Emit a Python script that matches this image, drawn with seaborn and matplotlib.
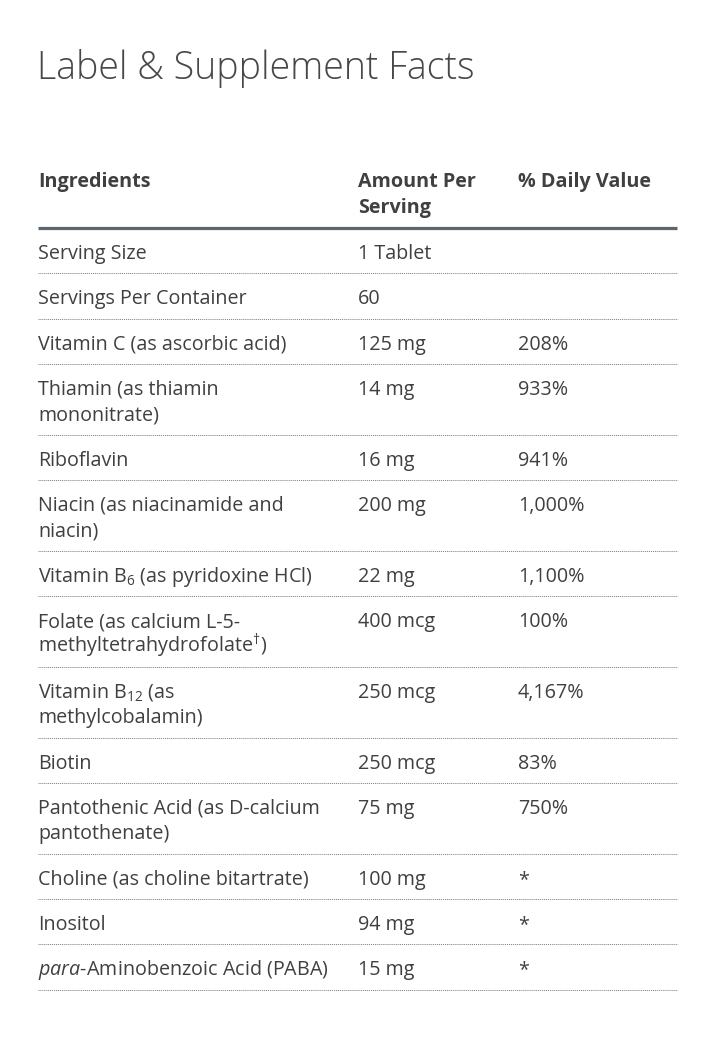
import matplotlib
matplotlib.use("Agg")
import matplotlib.pyplot as plt
import seaborn as sns

# table content
headers = ["Ingredients", "Amount Per\nServing", "% Daily Value"]
ingredients = [
    "Serving Size",
    "Servings Per Container",
    "Vitamin C (as ascorbic acid)",
    "Thiamin (as thiamin\nmononitrate)",
    "Riboflavin",
    "Niacin (as niacinamide and\nniacin)",
    r"Vitamin B$_{6}$ (as pyridoxine HCl)",
    "Folate (as calcium L-5-\n" + r"methyltetrahydrofolate$^{\dagger}$)",
    r"Vitamin B$_{12}$ (as" + "\nmethylcobalamin)",
    "Biotin",
    "Pantothenic Acid (as D-calcium\npantothenate)",
    "Choline (as choline bitartrate)",
    "Inositol",
    r"$\mathit{para}$-Aminobenzoic Acid (PABA)",
]
amounts = ["1 Tablet", "60", "125 mg", "14 mg", "16 mg", "200 mg", "22 mg",
           "400 mcg", "250 mcg", "250 mcg", "75 mg", "100 mg", "94 mg", "15 mg"]
daily_values = ["", "", "208%", "933%", "941%", "1,000%", "1,100%",
                "100%", "4,167%", "83%", "750%", "*", "*", "*"]

sns.set_theme(style="white")
plt.rcParams["font.family"] = ["Open Sans", "DejaVu Sans"]
plt.rcParams["mathtext.fontset"] = "custom"
plt.rcParams["mathtext.rm"] = "Open Sans"
plt.rcParams["mathtext.it"] = "Open Sans:italic"
plt.rcParams["mathtext.bf"] = "Open Sans:bold"

TXT = "#404040"
W, H = 720, 1045
fig = plt.figure(figsize=(W / 100, H / 100), dpi=100)
ax = fig.add_axes([0, 0, 1, 1])
ax.set_xlim(0, W)
ax.set_ylim(H, 0)
ax.axis("off")

col_x = [38, 358, 518]
x_right = 677
fs = 14.2
line_h = 25.5

ax.text(37, 79, "Label & Supplement Facts", fontsize=27, fontweight="light",
        color="#484848", va="baseline", ha="left")

# header row
for x, h in zip(col_x, headers):
    for i, part in enumerate(h.split("\n")):
        ax.text(x, 187 + i * line_h, part, fontsize=fs, fontweight="bold",
                color=TXT, va="baseline", ha="left")
y_line = 228
ax.plot([38, x_right], [y_line, y_line], color="#5b6670", lw=2.3,
        solid_capstyle="butt")

# body rows
for name, amt, dv in zip(ingredients, amounts, daily_values):
    base = y_line + 31
    n = 1
    for x, cell in zip(col_x, [name, amt, dv]):
        parts = cell.split("\n")
        n = max(n, len(parts))
        for i, part in enumerate(parts):
            ax.text(x, base + i * line_h, part, fontsize=fs, color=TXT,
                    va="baseline", ha="left")
    y_line = base + (n - 1) * line_h + 14.3
    ax.plot([38, x_right], [y_line, y_line], color="#7a7a7a", lw=0.7,
            linestyle=(0, (1, 1)))

fig.savefig("out.png", dpi=100, facecolor="white")
